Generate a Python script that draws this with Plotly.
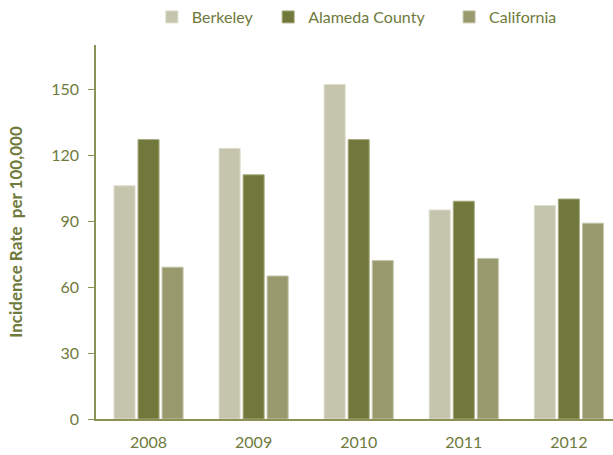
import plotly.graph_objects as go

years = ["2008", "2009", "2010", "2011", "2012"]
berkeley = [106, 123, 152, 95, 97]
alameda = [127, 111, 127, 99, 100]
california = [69, 65, 72, 73, 89]

c_berk = "#c5c5ad"
c_alam = "#71783b"
c_cal = "#989a6e"
txt = "#6f7a3c"
axc = "#8b9155"
font = "Lato, 'Open Sans', sans-serif"

fig = go.Figure()
fig.add_bar(x=years, y=berkeley, name="Berkeley", marker=dict(color=c_berk, line=dict(color="#dcdccb", width=1)), legend="legend")
fig.add_bar(x=years, y=alameda, name="Alameda County", marker=dict(color=c_alam, line=dict(color="#a7ab80", width=1)), legend="legend2")
fig.add_bar(x=years, y=california, name="California", marker=dict(color=c_cal, line=dict(color="#c4c5a8", width=1)), legend="legend3")

leg = dict(orientation="h", yanchor="middle", y=1.075, xanchor="left",
           font=dict(family=font, size=16, color=txt), bgcolor="rgba(0,0,0,0)",
           itemwidth=30, visible=True)
fig.update_layout(
    width=613, height=455,
    margin=dict(l=96, r=0, t=44, b=36),
    paper_bgcolor="white", plot_bgcolor="white",
    barmode="group", bargap=0.314, bargroupgap=0.125,
    showlegend=True,
    font=dict(family=font, color=txt),
    legend=dict(leg, x=0.108),
    legend2=dict(leg, x=0.333),
    legend3=dict(leg, x=0.683),
    xaxis=dict(range=[-0.5, 4.42], showline=True, linecolor=axc, linewidth=1.5,
               ticks="", tickfont=dict(size=16, color=txt, family=font),
               ticklabelstandoff=8, showgrid=False, zeroline=False, fixedrange=True),
    yaxis=dict(range=[0, 170], tickvals=[0, 30, 60, 90, 120, 150], showline=True,
               linecolor=axc, linewidth=1.5, ticks="outside", ticklen=6, tickcolor=axc,
               tickfont=dict(size=16, color=txt, family=font), ticklabelstandoff=6,
               showgrid=False, zeroline=False,
               title=dict(text="<b>Incidence Rate  per 100,000</b>", standoff=24,
                          font=dict(size=17, color=txt, family=font))),
)
fig.write_html("out.html", post_script="document.body.style.margin='0';",
               config={"displayModeBar": False})
